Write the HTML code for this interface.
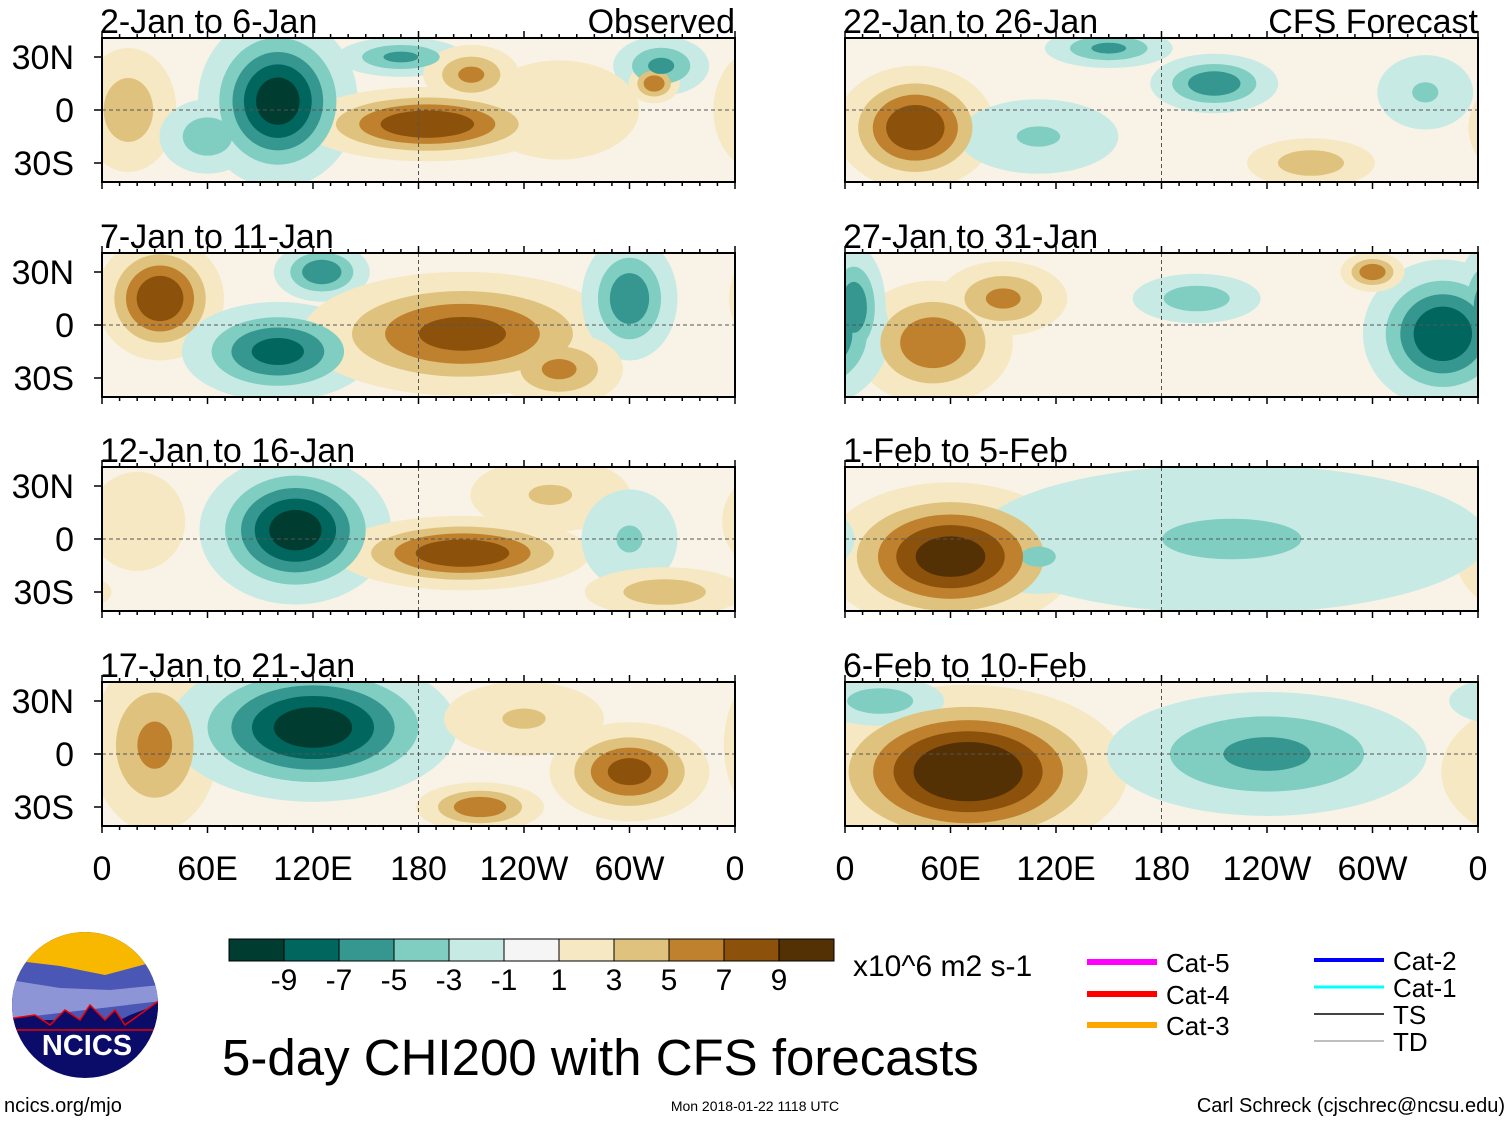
<!DOCTYPE html>
<html><head><meta charset="utf-8"><style>
body{margin:0;background:#fff;width:1510px;height:1121px;overflow:hidden;font-family:"Liberation Sans",sans-serif;}
svg{position:absolute;left:0;top:0}
</style></head><body>
<svg id="fig" width="1510" height="1121"></svg>
<script>
const panelTitles=["2-Jan to 6-Jan","7-Jan to 11-Jan","12-Jan to 16-Jan","17-Jan to 21-Jan","22-Jan to 26-Jan","27-Jan to 31-Jan","1-Feb to 5-Feb","6-Feb to 10-Feb"];
// blobs: [lon, lat, lonRadius, latRadius, amplitude]
const blobsP1=[[15,0,15,25,4],[60,-15,15,15,-4],[100,5,25,35,-9],[170,30,20,8,-5],[185,-8,40,15,8],[210,20,15,12,5],[318,25,15,12,-5],[314,15,8,8,6],[260,0,25,20,2]];
const blobsP2=[[33,15,20,25,8],[100,-15,30,20,-7],[125,30,15,12,-6],[205,-5,50,25,7],[300,15,15,25,-6],[260,-25,20,15,5]];
const blobsP3=[[110,5,30,30,-9],[205,-8,40,15,8],[255,25,25,15,3],[300,0,15,20,-3],[320,-30,25,10,4],[20,10,15,20,2]];
const blobsP4=[[30,5,20,35,5],[120,15,45,30,-9],[300,-10,25,20,7],[215,-30,20,10,6],[240,20,25,15,3]];
const blobsP5=[[40,-10,25,25,8],[210,15,20,12,-6],[150,35,20,8,-5],[265,-30,20,10,4],[110,-15,25,15,-3],[330,10,15,15,-3]];
const blobsP6=[[50,-10,25,25,6],[90,15,20,15,5],[340,-5,25,30,-8],[5,10,10,25,-6],[300,30,10,8,6],[200,15,20,10,-4]];
const blobsP7=[[60,-10,40,30,9],[220,0,80,30,-3],[110,-10,20,15,-3]];
const blobsP8=[[70,-10,50,35,10],[240,0,50,25,-5],[20,30,20,10,-4]];
const allBlobs=[blobsP1,blobsP2,blobsP3,blobsP4,blobsP5,blobsP6,blobsP7,blobsP8];
const levels=[1,3,5,7,9];
const cbLabels=["-9","-7","-5","-3","-1","1","3","5","7","9"];
const lonLabels=["0","60E","120E","180","120W","60W","0"];
const latLabels=["30N","0","30S"];
const colors=["#003c30","#01665e","#35978f","#80cdc1","#c7eae5","#f5f5f5","#f6e8c3","#dfc27d","#bf812d","#8c510a","#543005"];

const NS="http://www.w3.org/2000/svg";
const svg=document.getElementById('fig');
function el(tag,attrs,parent){const e=document.createElementNS(NS,tag);for(const k in attrs)e.setAttribute(k,attrs[k]);(parent||svg).appendChild(e);return e;}
const colX=[102,845], rowY=[38,253,467,682], PW=633, PH=144;
function xS(px,lon){return px+lon/360*PW;}
function yS(py,lat){return py+PH/2-lat/30*53;}
function colorFor(v){ if(v>0){return colors[6+levels.indexOf(v)];} return colors[4-levels.indexOf(-v)];}
for(let p=0;p<8;p++){
  const c=Math.floor(p/4), r=p%4, px=colX[c], py=rowY[r];
  const g=el('g',{},svg);
  
  
  const cp=el('clipPath',{id:'cp'+p},g);
  el('rect',{x:px,y:py,width:PW,height:PH},cp);
  el('rect',{x:px,y:py,width:PW,height:PH,fill:'#f8f3e6'},g);
  const fg=el('g',{'clip-path':'url(#cp'+p+')'},g);
  levels.forEach(L=>{
    allBlobs[p].forEach(b=>{
      const A=Math.abs(b[4]); if(A<L)return;
      const f=A>1?Math.sqrt(Math.log(A/L+0.0001)/Math.log(A)+0.08):1;
      for(const sh of [-360,0,360]){
        const e=el('ellipse',{cx:xS(px,b[0]+sh),cy:yS(py,b[1]),rx:b[2]/360*PW*f*1.75,ry:b[3]/30*53*f*1.35,fill:colorFor(b[4]>0?L:-L)},fg);
        
        
      }
    });
  });
  el('line',{x1:px,x2:px+PW,y1:yS(py,0),y2:yS(py,0),stroke:'#555','stroke-dasharray':'4,3','stroke-width':1},g);
  el('line',{x1:xS(px,180),x2:xS(px,180),y1:py,y2:py+PH,stroke:'#555','stroke-dasharray':'4,3','stroke-width':1},g);
  el('rect',{x:px,y:py,width:PW,height:PH,fill:'none',stroke:'#000','stroke-width':2},g);
  for(let k=0;k<=36;k++){const x=xS(px,k*10);const len=k%6==0?7:4;
    el('line',{x1:x,x2:x,y1:py,y2:py-len,stroke:'#000','stroke-width':1.5},g);
    el('line',{x1:x,x2:x,y1:py+PH,y2:py+PH+len,stroke:'#000','stroke-width':1.5},g);}
  const t=el('text',{x:px-2,y:py-5,'font-size':34},g);t.textContent=panelTitles[p];
  
  if(p==0){const o=el('text',{x:px+PW,y:py-5,'font-size':34,'text-anchor':'end'},g);o.textContent='Observed';
    }
  if(p==4){const o=el('text',{x:px+PW,y:py-5,'font-size':34,'text-anchor':'end'},g);o.textContent='CFS Forecast';
    }
  if(c==0){[30,0,-30].forEach((lat,i)=>{const y=yS(py,lat);
    const lt=el('text',{x:74,y:y+12,'font-size':34,'text-anchor':'end'},g);lt.textContent=latLabels[i];
    
    el('line',{x1:px-8,x2:px,y1:y,y2:y,stroke:'#000','stroke-width':1.5},g);});}
  if(r==3){lonLabels.forEach((s,i)=>{const lt=el('text',{x:xS(px,i*60),y:880,'font-size':34,'text-anchor':'middle'},g);lt.textContent=s;
    });}
}
const cb=el('g',{},svg);

colors.forEach((col,i)=>{el('rect',{x:229+i*55,y:939,width:55,height:22,fill:col,stroke:'#000','stroke-width':1},cb);});
cbLabels.forEach((s,i)=>{const t=el('text',{x:284+i*55,y:990,'font-size':30,'text-anchor':'middle'},cb);t.textContent=s;
  });
function txt(x,y,s,size,name,anchor){const t=el('text',{x:x,y:y,'font-size':size,'text-anchor':anchor||'start'});t.textContent=s;
  return t;}
txt(853,976,'x10^6 m2 s-1',30,'units-label');
txt(222,1075,'5-day CHI200 with CFS forecasts',51,'figure-title');
txt(4,1112,'ncics.org/mjo',20,'website-label');
txt(755,1111,'Mon 2018-01-22 1118 UTC',14,'timestamp','middle');
txt(1505,1112,'Carl Schreck (cjschrec@ncsu.edu)',20,'author-label','end');
const leg=[[1087,962,'#ff00ff','Cat-5',6],[1087,994,'#ff0000','Cat-4',6],[1087,1025,'#ffa500','Cat-3',6],[1314,960,'#0000ff','Cat-2',4],[1314,987,'#00ffff','Cat-1',3],[1314,1014,'#444','TS',2],[1314,1041,'#aaa','TD',1.5]];
leg.forEach(l=>{const g=el('g',{});
  el('line',{x1:l[0],x2:l[0]+70,y1:l[1],y2:l[1],stroke:l[2],'stroke-width':l[4]},g);
  const t=el('text',{x:l[0]+79,y:l[1]+10,'font-size':26},g);t.textContent=l[3];});
const lg=el('g',{});
el('clipPath',{id:'lc'},lg).appendChild(el('circle',{cx:85,cy:1005,r:73},lg));
const lgc=el('g',{'clip-path':'url(#lc)'},lg);
el('rect',{x:0,y:930,width:170,height:160,fill:'#0b0c6a'},lgc);
el('rect',{x:0,y:930,width:170,height:50,fill:'#f8b800'},lgc);
el('path',{d:'M10,960 L60,966 L105,975 L150,963 L170,960 L170,1000 L130,1015 L120,1020 L100,1020 L60,1020 L20,1020 L0,1020 Z',fill:'#4b57b5'},lgc);
el('path',{d:'M10,980 L60,988 L110,990 L160,985 L170,1000 L0,1020 Z',fill:'#8d95d6'},lgc);
el('path',{d:'M0,1020 L35,1015 L50,1025 L65,1010 L80,1020 L90,1005 L105,1020 L115,1010 L125,1025 L160,1000 L170,1030 L0,1030 Z',fill:'#0b0c6a',stroke:'#e00','stroke-width':1.5},lgc);
const nt=el('text',{x:87,y:1055,'font-size':29,'font-weight':'bold',fill:'#fff','text-anchor':'middle'},lg);nt.textContent='NCICS';
</script>
</body></html>
